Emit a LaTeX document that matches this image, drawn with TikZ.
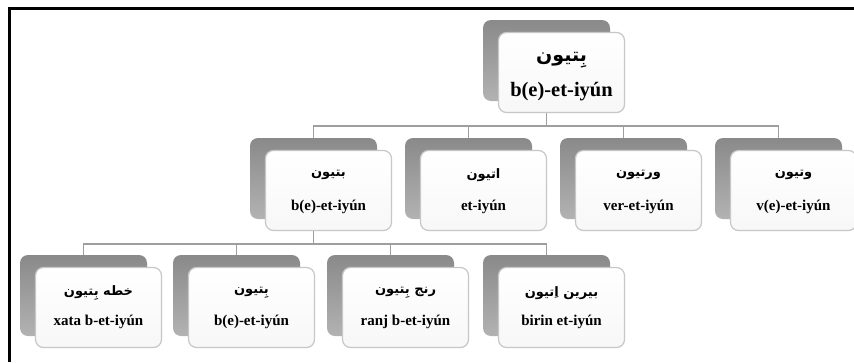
\documentclass[tikz,border=0pt]{standalone}
\usepackage{fontspec}
\setmainfont{Liberation Serif}
\newfontfamily\arabicfont[Script=Arabic]{DejaVu Sans}
\TeXXeTstate=1
\begin{document}
\begin{tikzpicture}[x=1pt,y=-1pt,
  back/.style={rectangle, rounded corners=8pt, minimum width=127pt, minimum height=81pt, inner sep=0pt, top color=black!46, bottom color=black!30, draw=none},
  front/.style={rectangle, rounded corners=8pt, minimum width=126pt, minimum height=80pt, inner sep=0pt, top color=white, bottom color=black!3, draw=black!22, line width=1.2pt},
  conn/.style={draw=black!38, line width=1.5pt},
  ar/.style={inner sep=0pt, font=\arabicfont\bfseries\fontsize{13}{15}\selectfont},
  la/.style={inner sep=0pt, font=\bfseries\fontsize{15}{17}\selectfont},
  arbig/.style={inner sep=0pt, font=\arabicfont\bfseries\fontsize{19}{22}\selectfont},
  labig/.style={inner sep=0pt, font=\bfseries\fontsize{20.5}{24}\selectfont}]
\useasboundingbox (0,0) rectangle (854,362);
\fill[white] (0,0) rectangle (854,362);
\draw[line width=3.5pt, line join=miter] (9.5,362) -- (9.5,8.5) -- (854,8.5);

% top
\node[back] (g0) at (546.5,60.5) {};
\node[front] (w0) at (561.5,72.5) {};
\node[arbig] (a0) at (561.5,60) {\beginR بِتیون\endR};
\node[labig] (l0) at (561.5,92) {b(e)-et-iyún};

% level 2
\node[back] (g21) at (313.5,178.5) {};
\node[front] (w21) at (328.5,190.5) {};
\node[ar] (a21) at (328.5,175) {\beginR بتیون\endR};
\node[la] (l21) at (328.5,207) {b(e)-et-iyún};

\node[back] (g22) at (468.5,178.5) {};
\node[front] (w22) at (483.5,190.5) {};
\node[ar] (a22) at (483.5,175) {\beginR اتیون\endR};
\node[la] (l22) at (483.5,207) {et-iyún};

\node[back] (g23) at (623.5,178.5) {};
\node[front] (w23) at (638.5,190.5) {};
\node[ar] (a23) at (638.5,175) {\beginR ورتیون\endR};
\node[la] (l23) at (638.5,207) {ver-et-iyún};

\node[back] (g24) at (778.5,178.5) {};
\node[front] (w24) at (793.5,190.5) {};
\node[ar] (a24) at (793.5,175) {\beginR وتیون\endR};
\node[la] (l24) at (793.5,207) {v(e)-et-iyún};

% level 3
\node[back] (g31) at (83.5,295.5) {};
\node[front] (w31) at (98.5,307.5) {};
\node[ar] (a31) at (98.5,293) {\beginR خطه بِتیون\endR};
\node[la] (l31) at (98.5,322) {xata b-et-iyún};

\node[back] (g32) at (236.5,295.5) {};
\node[front] (w32) at (251.5,307.5) {};
\node[ar] (a32) at (251.5,293) {\beginR بِتیون\endR};
\node[la] (l32) at (251.5,322) {b(e)-et-iyún};

\node[back] (g33) at (390.5,295.5) {};
\node[front] (w33) at (405.5,307.5) {};
\node[ar] (a33) at (405.5,293) {\beginR رنج بِتیون\endR};
\node[la] (l33) at (405.5,322) {ranj b-et-iyún};

\node[back] (g34) at (546.5,295.5) {};
\node[front] (w34) at (561.5,307.5) {};
\node[ar] (a34) at (561.5,293) {\beginR بیرین اِتیون\endR};
\node[la] (l34) at (561.5,322) {birin et-iyún};

% connectors
\foreach \c in {g21,g22,g23,g24}
  \draw[conn] (g0 |- w0.south) -- ++(0,13) -| (\c.north);
\foreach \c in {g31,g32,g33,g34}
  \draw[conn] (g21 |- w21.south) -- ++(0,13) -| (\c.north);
\end{tikzpicture}
\end{document}
